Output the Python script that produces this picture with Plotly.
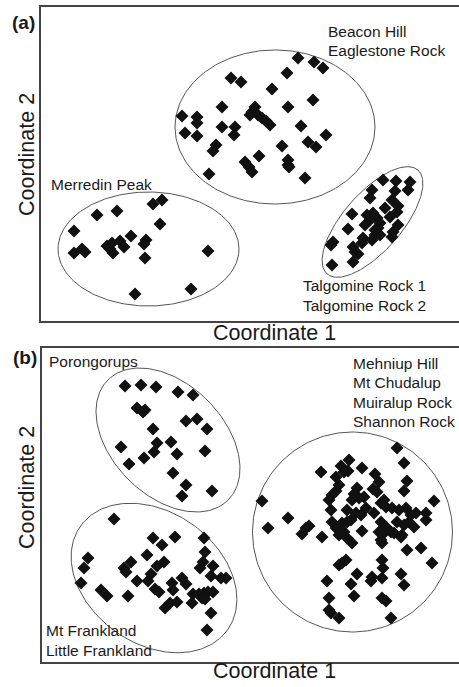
import numpy as np
import plotly.graph_objects as go

W, H = 459, 687

# ---------------- Panel (a) data (arbitrary ordination units) ----------------
beacon_x = [257, 273, 282, 246, 190, 200, 231, 272, 181, 247, 214, 211, 209, 217, 221, 225, 229,
            141, 156, 156, 144, 156, 181, 194, 193, 260, 285, 175, 172, 241, 267, 275, 218, 204,
            208, 211, 247, 247, 248, 168, 264]
beacon_y = [263, 259, 253, 248, 243, 239, 232, 221, 214, 214, 214, 209, 206, 206, 203, 200, 196,
            205, 204, 198, 188, 185, 194, 194, 186, 195, 186, 176, 170, 175, 179, 174, 165, 159,
            154, 149, 161, 156, 154, 147, 143]

merredin_x = [33, 56, 76, 112, 121, 119, 33, 41, 44, 66, 71, 69, 72, 79, 83, 90, 105, 103, 104,
              167, 94, 150]
merredin_y = [90, 106, 110, 117, 121, 97, 68, 72, 69, 75, 78, 72, 68, 80, 74, 85, 81, 77, 63,
              70, 27, 32]

talgomine_x = [342, 355, 369, 367, 331, 354, 329, 351, 357, 356, 344, 311, 326, 332, 336, 329,
               324, 349, 339, 337, 334, 357, 307, 352, 351, 334, 339, 331, 322, 321, 292, 290,
               312, 314, 317, 291, 312]
talgomine_y = [141, 140, 139, 131, 131, 130, 123, 121, 115, 109, 113, 107, 106, 108, 103, 101,
               96, 104, 98, 93, 91, 96, 92, 89, 84, 86, 86, 81, 83, 78, 79, 76, 74, 69, 67, 56, 59]

# ---------------- Panel (b) data ----------------
poron_x = [83, 99, 114, 136, 151, 95, 103, 101, 144, 155, 165, 111, 79, 115, 112, 129, 135, 163,
           102, 87, 131, 144, 140, 170]
poron_y = [276, 277, 275, 270, 267, 254, 252, 250, 241, 243, 233, 233, 215, 219, 210, 220, 208,
           211, 204, 198, 189, 177, 166, 171]

frank_x = [72, 111, 120, 133, 162, 46, 42, 39, 105, 89, 82, 84, 115, 122, 163, 161, 158, 171,
           109, 106, 95, 169, 179, 184, 140, 144, 130, 131, 113, 117, 59, 65, 86, 151, 157, 162,
           166, 171, 160, 163, 135, 128, 123, 150, 169, 165]
frank_y = [143, 124, 117, 125, 124, 104, 94, 79, 107, 100, 94, 90, 96, 100, 110, 100, 94, 96,
           88, 81, 81, 86, 84, 84, 84, 78, 79, 72, 73, 70, 72, 66, 66, 68, 68, 69, 70, 70, 64,
           63, 60, 59, 54, 59, 49, 32]

mehn_x = [355, 362, 307, 299, 302, 320, 306, 279, 294, 333, 337, 365, 362, 297, 294, 315, 312,
          331, 335, 322, 342, 287, 290, 392, 220, 246, 226, 267, 264, 260, 280, 289, 305, 310,
          317, 314, 319, 324, 332, 339, 344, 350, 357, 364, 369, 374, 384, 339, 344, 355, 362,
          367, 372, 384, 290, 294, 297, 300, 305, 309, 302, 297, 320, 305, 310, 337, 342, 349,
          352, 339, 340, 360, 359, 365, 379, 390, 304, 300, 297, 340, 341, 330, 329, 340, 315,
          359, 285, 309, 362, 312, 287, 340, 344, 287, 289, 297, 349]
mehn_y = [214, 199, 202, 196, 190, 194, 191, 190, 185, 188, 180, 181, 171, 177, 171, 174, 168,
          173, 170, 165, 162, 162, 167, 161, 161, 144, 134, 136, 134, 128, 125, 152, 152, 162,
          164, 149, 147, 154, 149, 159, 155, 154, 152, 154, 147, 149, 149, 140, 135, 140, 137,
          140, 135, 142, 140, 134, 135, 139, 140, 142, 130, 127, 131, 124, 119, 130, 129, 130,
          129, 122, 119, 127, 125, 112, 114, 99, 102, 99, 97, 102, 94, 85, 81, 84, 88, 88, 81,
          78, 77, 66, 64, 64, 61, 52, 49, 44, 44]

# ellipse parameters: centre x, centre y, semi-major, semi-minor, angle (deg)
ellipses_a = [(234, 194, 100, 77, 0), (107.5, 72, 90.5, 57, 0), (331.5, 99, 69, 29, 48.8)]
ellipses_b = [(126, 222, 85, 56, -45), (112, 84, 90, 66, -35), (310.5, 130, 100, 100, 0)]

FONT = "Liberation Sans, Arial, sans-serif"
MARKER = dict(symbol="diamond", size=10, color="#111111", line=dict(width=0))
ELL_LINE = dict(color="#555555", width=1)


def ellipse_xy(cx, cy, a, b, ang):
    t = np.linspace(0, 2 * np.pi, 240)
    th = np.deg2rad(ang)
    x = cx + a * np.cos(t) * np.cos(th) - b * np.sin(t) * np.sin(th)
    y = cy + a * np.cos(t) * np.sin(th) + b * np.sin(t) * np.cos(th)
    return x, y


fig = go.Figure()

for (cx, cy, a, b, ang) in ellipses_a:
    ex, ey = ellipse_xy(cx, cy, a, b, ang)
    fig.add_trace(go.Scatter(x=ex, y=ey, mode="lines", line=ELL_LINE, xaxis="x", yaxis="y",
                             hoverinfo="skip", showlegend=False))
for (cx, cy, a, b, ang) in ellipses_b:
    ex, ey = ellipse_xy(cx, cy, a, b, ang)
    fig.add_trace(go.Scatter(x=ex, y=ey, mode="lines", line=ELL_LINE, xaxis="x2", yaxis="y2",
                             hoverinfo="skip", showlegend=False))

for xs, ys in [(beacon_x, beacon_y), (merredin_x, merredin_y), (talgomine_x, talgomine_y)]:
    fig.add_trace(go.Scatter(x=xs, y=ys, mode="markers", marker=MARKER, xaxis="x", yaxis="y",
                             showlegend=False))
for xs, ys in [(poron_x, poron_y), (frank_x, frank_y), (mehn_x, mehn_y)]:
    fig.add_trace(go.Scatter(x=xs, y=ys, mode="markers", marker=MARKER, xaxis="x2", yaxis="y2",
                             showlegend=False))


def px(x):
    return x / W


def py(y):
    return 1 - y / H


axis_common = dict(showgrid=False, zeroline=False, showticklabels=False, ticks="",
                   showline=True, linecolor="#444444", linewidth=1.5, fixedrange=True)

fig.update_layout(
    width=W, height=H, margin=dict(l=0, r=0, t=0, b=0),
    paper_bgcolor="white", plot_bgcolor="white",
    xaxis=dict(domain=[px(41), 1.0], range=[0, 418], mirror=True, anchor="y", **axis_common),
    yaxis=dict(domain=[py(321), py(7)], range=[0, 314], mirror=False, anchor="x", **axis_common),
    xaxis2=dict(domain=[px(42), 1.0], range=[0, 417], mirror=True, anchor="y2", **axis_common),
    yaxis2=dict(domain=[py(662), py(348)], range=[0, 314], mirror=False, anchor="x2", **axis_common),
)

ann = []


def text(x, y, s, size=15.5, anchor="left", angle=0, bold=False):
    ann.append(dict(x=px(x), y=py(y), xref="paper", yref="paper", text=("<b>%s</b>" % s) if bold else s,
                    showarrow=False, xanchor=anchor, yanchor="middle", textangle=angle,
                    font=dict(family=FONT, size=size, color="#1a1a1a")))


# panel labels
text(23.5, 22, "(a)", size=19, anchor="center", bold=True)
text(24.5, 357.5, "(b)", size=19, anchor="center", bold=True)
# axis titles
text(274, 333, "Coordinate 1", size=21.5, anchor="center")
text(274, 671, "Coordinate 1", size=21.5, anchor="center")
text(27, 155, "Coordinate 2", size=21.5, anchor="center", angle=-90)
text(27, 488, "Coordinate 2", size=21.5, anchor="center", angle=-90)
# group labels (a)
text(326, 31, "Beacon Hill")
text(326, 50, "Eaglestone Rock")
text(49, 184, "Merredin Peak")
text(301, 285, "Talgomine Rock 1")
text(301, 305, "Talgomine Rock 2")
# group labels (b)
text(47, 361, "Porongorups")
text(351, 363, "Mehniup Hill")
text(351, 382, "Mt Chudalup")
text(351, 402, "Muiralup Rock")
text(351, 422, "Shannon Rock")
text(44, 630, "Mt Frankland")
text(44, 650, "Little Frankland")

fig.update_layout(annotations=ann)

fig.write_html("out.html")
